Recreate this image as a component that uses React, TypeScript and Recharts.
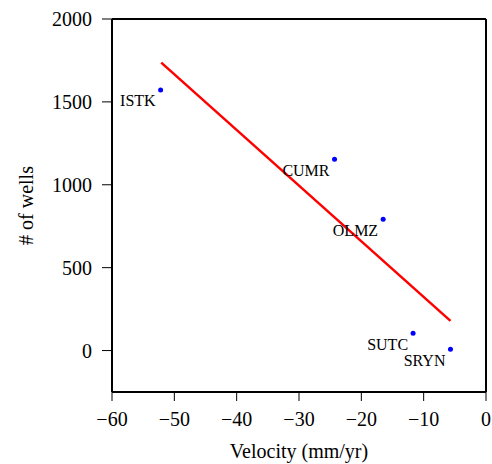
import { Label, Scatter, ScatterChart, XAxis, YAxis } from "recharts";

const stations = ["ISTK", "CUMR", "OLMZ", "SUTC", "SRYN"];
const velocities = [-52.2, -24.3, -16.5, -11.7, -5.7];
const wellCounts = [1572, 1154, 792, 104, 8];

const fitVelocities = [-52.1, -5.7];
const fitWells = [1737, 179];

const xTicks = [-60, -50, -40, -30, -20, -10, 0];
const yTicks = [0, 500, 1000, 1500, 2000];

const points = stations.map((name, i) => ({ name, x: velocities[i], y: wellCounts[i] }));
const fitLine = fitVelocities.map((x, i) => ({ x, y: fitWells[i] }));

const font = "'Liberation Serif', 'Times New Roman', serif";
const minus = (v: number) => String(v).replace("-", "\u2212");

function XTick(props: any) {
  const { x, y, payload } = props;
  return (
    <text x={x} y={y} dy="0.71em" textAnchor="middle" fontSize={20} fontFamily={font} fill="#000">
      {minus(payload.value)}
    </text>
  );
}

function YTick(props: any) {
  const { x, y, payload } = props;
  return (
    <text x={x} y={y} dy="0.355em" textAnchor="end" fontSize={20} fontFamily={font} fill="#000">
      {minus(payload.value)}
    </text>
  );
}

function XTitle(props: any) {
  const { x, y, width, height } = props.viewBox;
  return (
    <text x={x + width / 2} y={y + height - 6.5} textAnchor="middle" fontSize={20} fontFamily={font} fill="#000">
      Velocity (mm/yr)
    </text>
  );
}

function YTitle(props: any) {
  const { y, height } = props.viewBox;
  const cx = 26;
  const cy = y + height / 2;
  return (
    <text
      x={cx}
      y={cy}
      dy="0.355em"
      textAnchor="middle"
      transform={`rotate(-90, ${cx}, ${cy})`}
      fontSize={20}
      fontFamily={font}
      fill="#000"
    >
      # of wells
    </text>
  );
}

function StationDot(props: any) {
  const { cx, cy, payload } = props;
  return (
    <g>
      <circle cx={cx} cy={cy} r={2.5} fill="#0000ff" />
      <text x={cx - 5} y={cy + 16.5} textAnchor="end" fontSize={16} fontFamily={font} fill="#000">
        {payload.name}
      </text>
    </g>
  );
}

export default function App() {
  return (
    <div style={{ position: "absolute", left: 0, top: 0, background: "#fff" }}>
      <ScatterChart width={492} height={464} margin={{ top: 0, right: 0, bottom: 0, left: 0 }}>
        <XAxis
          type="number"
          dataKey="x"
          domain={[-60, 0]}
          ticks={xTicks}
          height={72}
          tickSize={9}
          tickMargin={11}
          tick={<XTick />}
          axisLine={{ stroke: "#000", strokeWidth: 2 }}
          tickLine={{ stroke: "#000", strokeWidth: 1 }}
        >
          <Label content={<XTitle />} />
        </XAxis>
        <XAxis
          xAxisId="top"
          orientation="top"
          type="number"
          dataKey="x"
          domain={[-60, 0]}
          ticks={xTicks}
          height={19}
          tickSize={9}
          tick={false}
          axisLine={{ stroke: "#000", strokeWidth: 2 }}
          tickLine={{ stroke: "#000", strokeWidth: 1 }}
        />
        <YAxis
          type="number"
          dataKey="y"
          domain={[-250, 2000]}
          ticks={yTicks}
          width={112}
          tickSize={10}
          tickMargin={10}
          tick={<YTick />}
          axisLine={{ stroke: "#000", strokeWidth: 2 }}
          tickLine={{ stroke: "#000", strokeWidth: 1 }}
        >
          <Label content={<YTitle />} />
        </YAxis>
        <YAxis
          yAxisId="right"
          orientation="right"
          type="number"
          dataKey="y"
          domain={[-250, 2000]}
          ticks={yTicks}
          width={6}
          tickSize={6}
          tick={false}
          axisLine={{ stroke: "#000", strokeWidth: 2 }}
          tickLine={{ stroke: "#000", strokeWidth: 1 }}
        />
        <Scatter
          data={fitLine}
          line={{ stroke: "#ff0000", strokeWidth: 2.5 }}
          shape={() => <g />}
          isAnimationActive={false}
        />
        <Scatter data={points} shape={<StationDot />} isAnimationActive={false} />
      </ScatterChart>
    </div>
  );
}
